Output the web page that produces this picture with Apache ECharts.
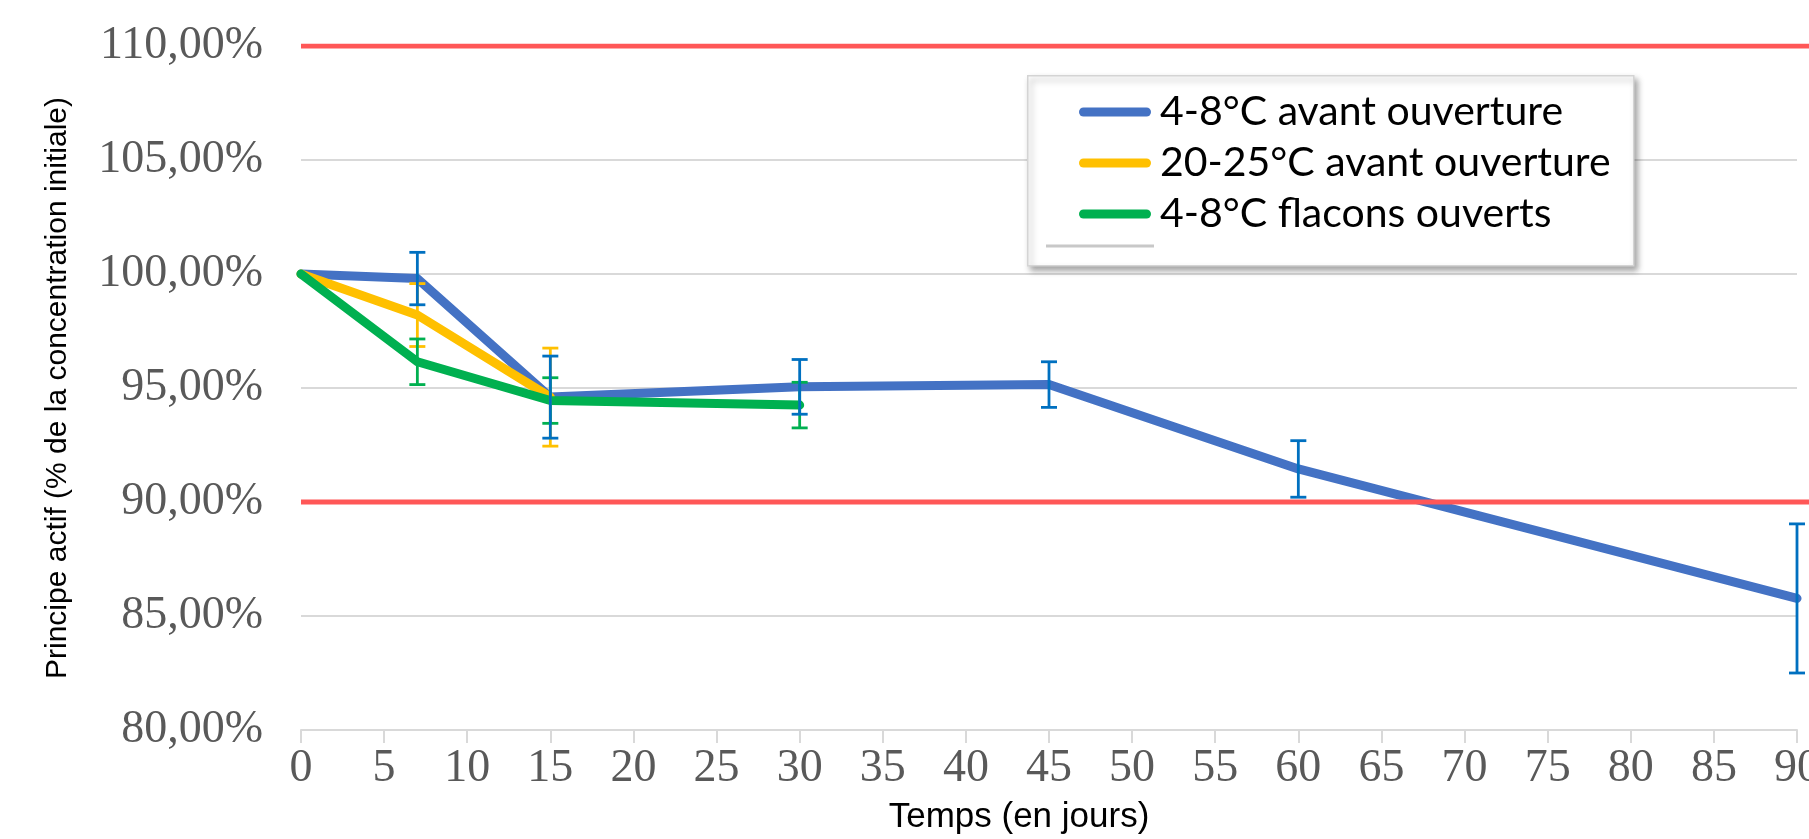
<!DOCTYPE html>
<html>
<head>
<meta charset="utf-8">
<script src="https://cdn.jsdelivr.net/npm/echarts@6/dist/echarts.min.js"></script>
<style>
  html, body { margin: 0; padding: 0; background: #fff; }
  #chart { width: 1809px; height: 839px; }
</style>
</head>
<body>
<div id="chart"></div>
<script>
// ---- data ----
const seriesNames = ['4-8°C avant ouverture', '20-25°C avant ouverture', '4-8°C flacons ouverts'];
const blueDays = [0, 7, 15, 30, 45, 60, 90];
const blueValues = [100, 99.8, 94.6, 95.05, 95.15, 91.45, 85.77];
const blueErr = [0, 1.15, 1.8, 1.2, 1.0, 1.24, 3.27];
const yellowDays = [0, 7, 15];
const yellowValues = [100, 98.2, 94.6];
const yellowErr = [0, 1.38, 2.15];
const greenDays = [0, 7, 15, 30];
const greenValues = [100, 96.15, 94.45, 94.25];
const greenErr = [0, 1.0, 1.0, 1.0];
const limitValues = [110, 90];
const yAxisTitle = 'Principe actif (% de la concentration initiale)';
const xAxisTitle = 'Temps (en jours)';

const lineColors = ['#4472C4', '#FFC000', '#00B050'];
const errColors = ['#0070C0', '#FFC000', '#00B050'];

function pts(days, vals) { return days.map((d, i) => [d, vals[i]]); }
function errs(days, vals, e) {
  return days.map((d, i) => [d, vals[i] - e[i], vals[i] + e[i]]).filter((r, i) => e[i] > 0);
}

function errorRender(color) {
  return function (params, api) {
    const x = api.value(0), lo = api.value(1), hi = api.value(2);
    const t = api.coord([x, hi]);
    const b = api.coord([x, lo]);
    const hw = 8;
    const st = { stroke: color, lineWidth: 2.8 };
    return {
      type: 'group',
      children: [
        { type: 'line', shape: { x1: t[0], y1: t[1], x2: b[0], y2: b[1] }, style: st },
        { type: 'line', shape: { x1: t[0] - hw, y1: t[1], x2: t[0] + hw, y2: t[1] }, style: st },
        { type: 'line', shape: { x1: b[0] - hw, y1: b[1], x2: b[0] + hw, y2: b[1] }, style: st }
      ]
    };
  };
}

function lineSeries(name, data, color) {
  return {
    name: name, type: 'line', data: data, showSymbol: false, symbol: 'none',
    lineStyle: { color: color, width: 9, cap: 'round', join: 'round' },
    itemStyle: { color: color }, z: 2, silent: true
  };
}

const chart = echarts.init(document.getElementById('chart'), null, { renderer: 'canvas' });

const series = [
  lineSeries(seriesNames[0], pts(blueDays, blueValues), lineColors[0]),
  lineSeries(seriesNames[1], pts(yellowDays, yellowValues), lineColors[1]),
  lineSeries(seriesNames[2], pts(greenDays, greenValues), lineColors[2]),
  { type: 'custom', renderItem: errorRender(errColors[1]), data: errs(yellowDays, yellowValues, yellowErr), z: 4, encode: { x: 0, y: [1, 2] } },
  { type: 'custom', renderItem: errorRender(errColors[2]), data: errs(greenDays, greenValues, greenErr), z: 4, encode: { x: 0, y: [1, 2] } },
  { type: 'custom', renderItem: errorRender(errColors[0]), data: errs(blueDays, blueValues, blueErr), z: 4, encode: { x: 0, y: [1, 2] } }
];
limitValues.forEach(v => {
  series.push({
    name: 'limite ' + v, type: 'line', xAxisIndex: 1, yAxisIndex: 1,
    data: [[0, v], [1, v]], showSymbol: false, symbol: 'none',
    lineStyle: { color: '#FF5757', width: 5 }, z: 3, silent: true
  });
});

const capsule = 'path://M4.5,0 L67.5,0 A4.5,4.5 0 0 1 67.5,9 L4.5,9 A4.5,4.5 0 0 1 4.5,0 Z';

chart.setOption({
  animation: false,
  backgroundColor: '#ffffff',
  grid: [
    { left: 301, right: 12, top: 46, bottom: 109, containLabel: false, outerBoundsMode: 'none' },
    { left: 301, right: 0, top: 46, bottom: 109, containLabel: false, outerBoundsMode: 'none' }
  ],
  xAxis: [
    {
      type: 'value', gridIndex: 0, min: 0, max: 90, interval: 5,
      axisLine: { show: true, lineStyle: { color: '#D9D9D9', width: 2 } },
      axisTick: { show: true, length: 13, lineStyle: { color: '#D9D9D9', width: 2 } },
      splitLine: { show: false },
      axisLabel: { fontFamily: 'Liberation Serif', fontSize: 46, color: '#595959', margin: 16, hideOverlap: false },
      name: xAxisTitle, nameLocation: 'middle', nameGap: 70,
      nameTextStyle: { fontFamily: 'Liberation Sans', fontSize: 35, color: '#000', padding: [0, 60, 0, 0] }
    },
    { type: 'value', gridIndex: 1, min: 0, max: 1, show: false }
  ],
  yAxis: [
    {
      type: 'value', gridIndex: 0, min: 80, max: 110, interval: 5,
      axisLine: { show: false }, axisTick: { show: false },
      splitLine: { show: true, lineStyle: { color: '#D9D9D9', width: 2 } },
      axisLabel: {
        fontFamily: 'Liberation Serif', fontSize: 46, color: '#595959', margin: 38,
        formatter: v => v.toFixed(2).replace('.', ',') + '%'
      },
      name: yAxisTitle, nameLocation: 'middle', nameGap: 228, nameRotate: 90,
      nameTextStyle: { fontFamily: 'Liberation Sans', fontSize: 30, color: '#000' }
    },
    { type: 'value', gridIndex: 1, min: 80, max: 110, show: false }
  ],
  legend: {
    data: seriesNames.map(n => ({ name: n, icon: capsule })),
    orient: 'vertical', left: 1079, top: 90,
    itemWidth: 72, itemHeight: 9, itemGap: 7, padding: 0,
    textStyle: { fontFamily: 'Lato', fontSize: 41, color: '#000', lineHeight: 44, padding: [0, 0, 0, 4] },
    selectedMode: false, z: 10
  },
  graphic: [
    {
      type: 'rect', left: 1027, top: 75, z: 5,
      shape: { width: 606, height: 190 },
      style: { fill: '#fff', stroke: '#D4D4D4', lineWidth: 1.5,
        shadowBlur: 6, shadowOffsetX: 3, shadowOffsetY: 4, shadowColor: 'rgba(0,0,0,0.35)' }
    },
    {
      type: 'line', z: 6,
      shape: { x1: 1046, y1: 246, x2: 1154, y2: 246 },
      style: { stroke: '#C8C8C8', lineWidth: 3 }
    }
  ],
  series: series
});
</script>
</body>
</html>
